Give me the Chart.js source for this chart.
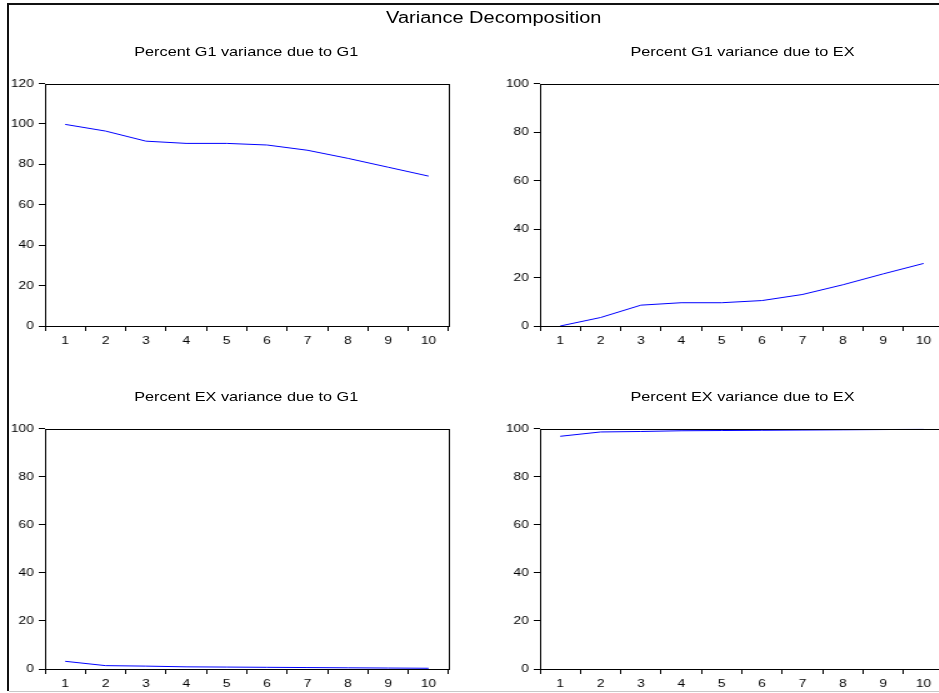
<!DOCTYPE html>
<html>
<head>
<meta charset="utf-8">
<script src="https://cdn.jsdelivr.net/npm/chart.js@4/dist/chart.umd.min.js"></script>
<style>
  html, body { margin: 0; padding: 0; background: #fff; overflow: hidden; }
  body { width: 939px; height: 693px; position: relative; font-family: 'Liberation Sans', Arial, sans-serif; }
  /* the source picture is stretched sideways, so the whole graph is drawn narrow and widened */
  #stage { position: absolute; left: 0; top: 0; width: 760px; height: 693px; transform: scaleX(1.25); transform-origin: 0 0; }
  .panel { position: absolute; }
  .txt { position: absolute; text-align: center; color: #000; white-space: nowrap; }
  .line { position: absolute; }
</style>
</head>
<body>
<div class="line" style="left:7px;top:3px;right:0;height:2px;background:#111"></div>
<div class="line" style="left:7px;top:3px;width:2px;height:688px;background:#111"></div>
<div class="line" style="left:9px;top:691px;right:0;height:1px;background:#c8c8c8"></div>

<div id="stage">
  <div class="txt" style="left:295px;width:200px;top:10px;font-size:16px;line-height:16px">Variance Decomposition</div>
  <div class="txt" style="left:97px;width:200px;top:45px;font-size:13px;line-height:13px">Percent G1 variance due to G1</div>
  <div class="txt" style="left:494px;width:200px;top:45px;font-size:13px;line-height:13px">Percent G1 variance due to EX</div>
  <div class="txt" style="left:97px;width:200px;top:390px;font-size:13px;line-height:13px">Percent EX variance due to G1</div>
  <div class="txt" style="left:494px;width:200px;top:390px;font-size:13px;line-height:13px">Percent EX variance due to EX</div>

  <div class="panel" style="left:0px;top:73px;width:363px;height:278px"><canvas id="c1"></canvas></div>
  <div class="panel" style="left:396px;top:73px;width:363px;height:278px"><canvas id="c2"></canvas></div>
  <div class="panel" style="left:0px;top:418px;width:363px;height:276px"><canvas id="c3"></canvas></div>
  <div class="panel" style="left:396px;top:418px;width:363px;height:276px"><canvas id="c4"></canvas></div>
</div>

<script>
'use strict';

const periods = ['1', '2', '3', '4', '5', '6', '7', '8', '9', '10'];

const g1DueG1 = [99.8, 96.5, 91.5, 90.4, 90.4, 89.6, 87.0, 83.0, 78.6, 74.2];
const g1DueEx = [0.0, 3.5, 8.6, 9.6, 9.6, 10.5, 13.0, 17.0, 21.5, 25.8];
const exDueG1 = [3.2, 1.4, 1.2, 0.9, 0.8, 0.7, 0.6, 0.5, 0.4, 0.3];
const exDueEx = [96.8, 98.6, 98.8, 99.1, 99.2, 99.3, 99.4, 99.5, 99.6, 99.7];

const fontFamily = "'Liberation Sans', Arial, sans-serif";

// box round the plot area
const frameBox = {
  id: 'frameBox',
  afterDraw(chart) {
    const a = chart.chartArea;
    const ctx = chart.ctx;
    ctx.save();
    ctx.strokeStyle = '#000';
    ctx.lineWidth = 1;
    ctx.strokeRect(Math.round(a.left) + 0.5, Math.round(a.top) + 0.5,
      Math.round(a.right - a.left), Math.round(a.bottom - a.top));
    ctx.restore();
  }
};

function makeChart(id, values, yMax) {
  const ctx = document.getElementById(id);
  return new Chart(ctx, {
    type: 'line',
    data: {
      labels: periods,
      datasets: [{
        data: values,
        borderColor: '#0000ff',
        borderWidth: 1,
        pointRadius: 0,
        tension: 0,
        fill: false
      }]
    },
    options: {
      responsive: true,
      maintainAspectRatio: false,
      animation: false,
      events: [],
      layout: { padding: { top: 10, right: 4, left: 0, bottom: 0 } },
      plugins: { legend: { display: false }, tooltip: { enabled: false } },
      scales: {
        x: {
          type: 'category',
          offset: true,
          border: { display: false },
          grid: { offset: true, drawOnChartArea: false, drawTicks: true, tickLength: 5, color: '#000' },
          ticks: { autoSkip: false, maxRotation: 0, padding: 3, color: '#000', font: { family: fontFamily, size: 11 } },
          afterFit(scale) { scale.height = 25; }
        },
        y: {
          min: 0,
          max: yMax,
          border: { display: false },
          grid: { drawOnChartArea: false, drawTicks: true, tickLength: 5, color: '#000' },
          ticks: { stepSize: 20, padding: 4, color: '#000', font: { family: fontFamily, size: 11 } },
          afterFit(scale) { scale.width = 36; }
        }
      }
    },
    plugins: [frameBox]
  });
}

makeChart('c1', g1DueG1, 120);
makeChart('c2', g1DueEx, 100);
makeChart('c3', exDueG1, 100);
makeChart('c4', exDueEx, 100);
</script>
</body>
</html>
